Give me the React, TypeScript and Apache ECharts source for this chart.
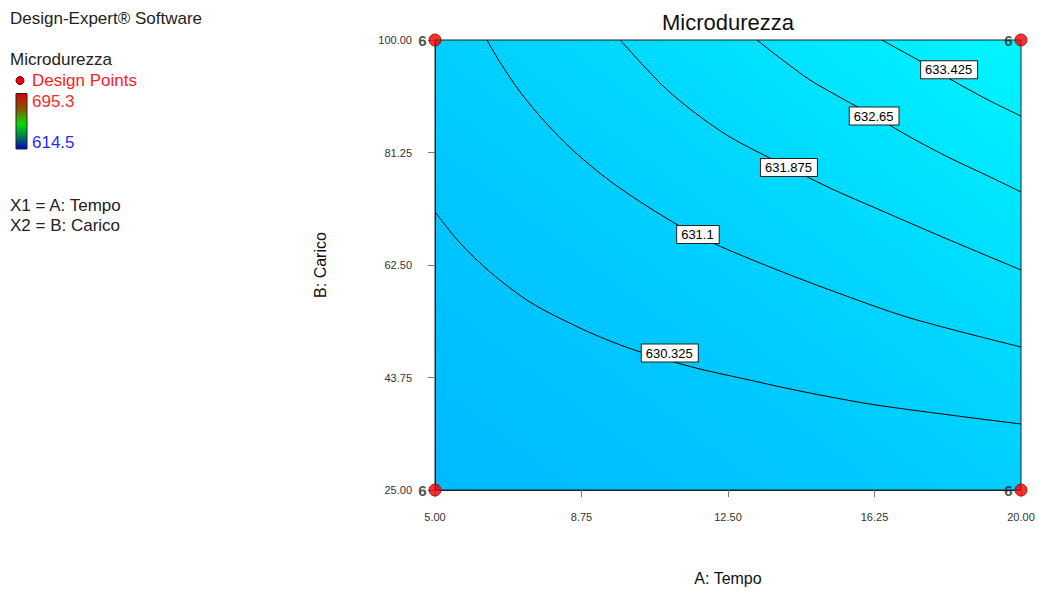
import { useEffect, useRef } from "react";
import * as echarts from "echarts";

// Axis ticks (A: Tempo, B: Carico)
const xTicks = [5, 8.75, 12.5, 16.25, 20];
const yTicks = [25, 43.75, 62.5, 81.25, 100];

// Contour levels of Microdurezza and their traced paths [Tempo, Carico]
const contourLevels = [630.325, 631.1, 631.875, 632.65, 633.425];
const contour1 = [[5, 71.33], [5.64, 66.17], [6.41, 61.33], [7.43, 56.33], [8.71, 52.0], [9.74, 49.17], [10.76, 47.0], [11.78, 45.17], [12.81, 43.67], [14.34, 41.5], [16.13, 39.33], [18.18, 37.5], [20, 36.0]];
const contour2 = [[6.33, 100], [6.66, 96.33], [7.18, 91.33], [7.82, 86.33], [8.58, 81.33], [9.48, 76.5], [10.5, 72.0], [11.73, 67.33], [13.32, 62.83], [15.11, 58.33], [17.16, 53.67], [20, 48.83]];
const contour3 = [[9.74, 100], [10.25, 96.33], [10.89, 92.0], [11.66, 87.83], [12.55, 83.83], [13.57, 80.33], [15.11, 75.33], [16.39, 71.67], [17.93, 67.33], [20, 61.67]];
const contour4 = [[13.24, 100], [13.83, 97.0], [14.6, 93.33], [15.49, 90.0], [16.24, 87.33], [17.16, 83.83], [18.18, 80.33], [19.21, 77.17], [20, 74.67]];
const contour5 = [[16.44, 100], [16.9, 98.33], [17.41, 96.5], [18.18, 93.5], [19.16, 90.0], [20, 87.33]];
const contourPaths = [contour1, contour2, contour3, contour4, contour5];

// Where each level's label sits on its contour
const contourLabelAt = [[11.01, 47.83], [11.73, 67.58], [14.06, 78.75], [16.24, 87.33], [18.16, 95.05]];

// Design points (corners) and their replicate counts
const designPoints = [[5, 25], [5, 100], [20, 25], [20, 100]];
const designRuns = [6, 6, 6, 6];

// Response range shown on the colour bar
const responseMax = "695.3";
const responseMin = "614.5";

const FONT = "Liberation Sans, Arial, sans-serif";

export default function App() {
  const ref = useRef<HTMLDivElement>(null);

  useEffect(() => {
    document.body.style.margin = "0";
    if (!ref.current) return;
    const chart = echarts.init(ref.current, null, { renderer: "svg" });

    const lineSeries = contourPaths.map((path, i) => ({
      type: "line",
      name: String(contourLevels[i]),
      data: path,
      smooth: 0.3,
      showSymbol: false,
      symbol: "none",
      lineStyle: { color: "#000", width: 1 },
      z: 3,
      silent: true,
    }));

    const option: any = {
      animation: false,
      textStyle: { fontFamily: FONT },
      grid: {
        left: 435,
        right: 18,
        top: 40,
        bottom: 101,
        outerBoundsMode: "none",
        containLabel: false,
        show: true,
        borderColor: "#222",
        borderWidth: 1,
        backgroundColor: new echarts.graphic.LinearGradient(0, 1, 1, 0, [
          { offset: 0, color: "#00B9FF" },
          { offset: 0.33, color: "#00C6FF" },
          { offset: 0.52, color: "#00D0FF" },
          { offset: 0.67, color: "#00DAFF" },
          { offset: 0.79, color: "#00E4FF" },
          { offset: 0.91, color: "#00EEFF" },
          { offset: 1, color: "#00F8FF" },
        ]),
      },
      xAxis: {
        type: "value",
        min: 5,
        max: 20,
        name: "A: Tempo",
        nameLocation: "middle",
        nameGap: 80,
        nameTextStyle: { fontSize: 16, color: "#111", fontFamily: FONT },
        splitLine: { show: false },
        axisLine: { show: true, lineStyle: { color: "#222" } },
        axisTick: { show: true, length: 7, lineStyle: { color: "#777" }, customValues: xTicks },
        axisLabel: {
          customValues: xTicks,
          formatter: (v: number) => v.toFixed(2),
          fontSize: 11,
          color: "#333",
          margin: 21,
          fontFamily: FONT,
        },
      },
      yAxis: {
        type: "value",
        min: 25,
        max: 100,
        name: "B: Carico",
        nameLocation: "middle",
        nameGap: 107,
        nameRotate: 90,
        nameTextStyle: { fontSize: 16, color: "#111", fontFamily: FONT },
        splitLine: { show: false },
        axisLine: { show: true, lineStyle: { color: "#222" } },
        axisTick: { show: true, length: 7, lineStyle: { color: "#777" }, customValues: yTicks },
        axisLabel: {
          customValues: yTicks,
          formatter: (v: number) => v.toFixed(2),
          fontSize: 11,
          color: "#333",
          margin: 23,
          fontFamily: FONT,
        },
      },
      series: [
        ...lineSeries,
        {
          type: "scatter",
          name: "levels",
          data: contourLabelAt.map((p, i) => [p[0], p[1], contourLevels[i]]),
          symbol: "rect",
          symbolSize: 1,
          itemStyle: { color: "#ffffff", opacity: 1 },
          z: 5,
          silent: true,
          label: {
            show: true,
            position: "inside",
            formatter: (p: any) => String(p.value[2]),
            fontSize: 13,
            color: "#000",
            opacity: 1,
            backgroundColor: "#ffffff",
            borderColor: "#222",
            borderWidth: 1,
            padding: [2, 5, 1, 4],
            lineHeight: 14,
            fontFamily: FONT,
          },
        },
        {
          type: "scatter",
          name: "Design Points",
          data: designPoints.map((p, i) => [p[0], p[1], designRuns[i]]),
          symbol: "circle",
          symbolSize: 12,
          clip: false,
          z: 6,
          itemStyle: { color: "#F00000", borderColor: "#900", borderWidth: 1 },
          label: {
            show: true,
            position: "left",
            distance: 2,
            formatter: (p: any) => String(p.value[2]),
            fontSize: 15,
            fontWeight: "bold",
            color: "#222",
            fontFamily: FONT,
          },
        },
      ],
      graphic: [
        {
          type: "text",
          x: 728,
          y: 22,
          style: { text: "Microdurezza", font: `22px ${FONT}`, fill: "#111", align: "center", verticalAlign: "middle" },
        },
        {
          type: "text",
          x: 10,
          y: 18.5,
          style: { text: "Design-Expert® Software", font: `17px ${FONT}`, fill: "#222", verticalAlign: "middle" },
        },
        {
          type: "text",
          x: 10,
          y: 59,
          style: { text: "Microdurezza", font: `17px ${FONT}`, fill: "#222", verticalAlign: "middle" },
        },
        {
          type: "circle",
          shape: { cx: 20, cy: 80.5, r: 4 },
          style: { fill: "#F00000", stroke: "#600", lineWidth: 1 },
        },
        {
          type: "text",
          x: 32,
          y: 80,
          style: { text: "Design Points", font: `17px ${FONT}`, fill: "#FF2020", verticalAlign: "middle" },
        },
        {
          type: "rect",
          shape: { x: 16, y: 93.5, width: 11, height: 55.5 },
          style: {
            fill: new echarts.graphic.LinearGradient(0, 0, 0, 1, [
              { offset: 0, color: "#D80000" },
              { offset: 0.3, color: "#806000" },
              { offset: 0.55, color: "#00E000" },
              { offset: 0.8, color: "#007060" },
              { offset: 1, color: "#0000D0" },
            ]),
            stroke: "#222",
            lineWidth: 1,
          },
        },
        {
          type: "text",
          x: 32,
          y: 101,
          style: { text: responseMax, font: `17px ${FONT}`, fill: "#FF2A2A", verticalAlign: "middle" },
        },
        {
          type: "text",
          x: 32,
          y: 142,
          style: { text: responseMin, font: `17px ${FONT}`, fill: "#2A2AFF", verticalAlign: "middle" },
        },
        {
          type: "text",
          x: 10,
          y: 205,
          style: { text: "X1 = A: Tempo", font: `17px ${FONT}`, fill: "#222", verticalAlign: "middle" },
        },
        {
          type: "text",
          x: 10,
          y: 225,
          style: { text: "X2 = B: Carico", font: `17px ${FONT}`, fill: "#222", verticalAlign: "middle" },
        },
      ],
    };

    chart.setOption(option);
    return () => chart.dispose();
  }, []);

  return <div ref={ref} style={{ width: 1039, height: 591 }} />;
}
